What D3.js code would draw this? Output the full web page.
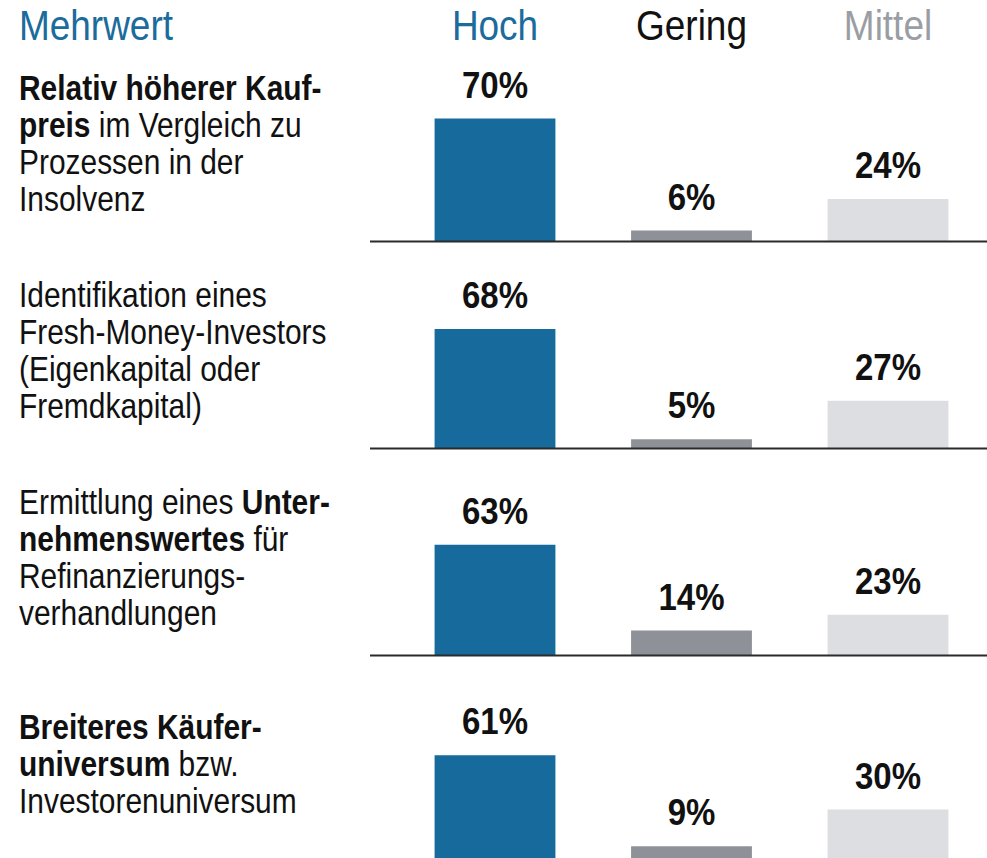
<!DOCTYPE html>
<html>
<head>
<meta charset="utf-8">
<script src="https://cdn.jsdelivr.net/npm/d3@7"></script>
<style>
  body { margin: 0; background: #fff; }
  svg { display: block; font-family: "Liberation Sans", Arial, sans-serif; }
</style>
</head>
<body>
<div class="chart"></div>
<script>
// categories (columns) and header text
var categories = ["Hoch", "Gering", "Mittel"];
var headerTitle = "Mehrwert";

// values per row, in percent
var hoch   = [70, 68, 63, 61];
var gering = [6, 5, 14, 9];
var mittel = [24, 27, 23, 30];

// row labels: each line is a list of [text, bold]
var rowLabels = [
  [[["Relativ höherer Kauf-", true]],
   [["preis", true], [" im Vergleich zu", false]],
   [["Prozessen in der", false]],
   [["Insolvenz", false]]],
  [[["Identifikation eines", false]],
   [["Fresh-Money-Investors", false]],
   [["(Eigenkapital oder", false]],
   [["Fremdkapital)", false]]],
  [[["Ermittlung eines ", false], ["Unter-", true]],
   [["nehmenswertes", true], [" für", false]],
   [["Refinanzierungs-", false]],
   [["verhandlungen", false]]],
  [[["Breiteres Käufer-", true]],
   [["universum", true], [" bzw.", false]],
   [["Investorenuniversum", false]]]
];

var width = 987;
var height = 858;

var barColor = { "Hoch": "#176a9c", "Gering": "#8e9298", "Mittel": "#dddee2" };
var headColor = { "Hoch": "#1b6b9c", "Gering": "#111111", "Mittel": "#9a9ea4" };

// no condensed font installed, so squeeze the text horizontally
var squeeze = { head: 0.88, label: 0.855, value: 0.88 };

var svg = d3.select(".chart")
            .append("svg")
            .attr("width", width)
            .attr("height", height);

function place(x, y, s) {
  return "translate(" + x + "," + y + ") scale(" + s + ",1)";
}

// column positions
var x = d3.scaleBand()
          .domain(categories)
          .range([396.75, 986.25])
          .paddingInner(0.385)
          .paddingOuter(0.1925);

// baseline of each row
var rowY = d3.scaleLinear()
             .domain([0, rowLabels.length - 1])
             .range([241, 862]);

// bar height
var h = d3.scaleLinear()
          .domain([0, 100])
          .range([0, 175]);

// header
svg.append("text")
   .attr("transform", place(19, 40, squeeze.head))
   .attr("font-size", 42)
   .attr("fill", "#1b6b9c")
   .text(headerTitle);

svg.selectAll("text.head")
   .data(categories)
   .enter().append("text")
   .attr("class", "head")
   .attr("transform", function(d){ return place(x(d) + x.bandwidth() / 2, 40, squeeze.head); })
   .attr("text-anchor", "middle")
   .attr("font-size", 42)
   .attr("fill", function(d){ return headColor[d]; })
   .text(function(d){ return d; });

var rows = rowLabels.map(function(lines, i){
  return { lines: lines, values: [hoch[i], gering[i], mittel[i]], i: i };
});

var row = svg.selectAll("g.row")
             .data(rows)
             .enter().append("g")
             .attr("class", "row")
             .attr("transform", function(d){ return "translate(0," + rowY(d.i) + ")"; });

// row label, centred on the row
var lineH = 37;
row.each(function(d){
  var g = d3.select(this);
  var n = d.lines.length;
  var first = -86 - (n - 1) * lineH / 2;
  d.lines.forEach(function(parts, j){
    var t = g.append("text")
             .attr("transform", place(19, first + j * lineH, squeeze.label))
             .attr("font-size", 35)
             .attr("fill", "#111");
    parts.forEach(function(p){
      t.append("tspan")
       .attr("font-weight", p[1] ? "bold" : "normal")
       .text(p[0]);
    });
  });
});

// bars
row.selectAll("rect")
   .data(function(d){ return d.values.map(function(v, k){ return { cat: categories[k], v: v }; }); })
   .enter().append("rect")
   .attr("x", function(d){ return x(d.cat); })
   .attr("y", function(d){ return -h(d.v); })
   .attr("width", x.bandwidth())
   .attr("height", function(d){ return h(d.v); })
   .attr("fill", function(d){ return barColor[d.cat]; });

// value labels
row.selectAll("text.val")
   .data(function(d){ return d.values.map(function(v, k){ return { cat: categories[k], v: v }; }); })
   .enter().append("text")
   .attr("class", "val")
   .attr("transform", function(d){ return place(x(d.cat) + x.bandwidth() / 2, -h(d.v) - 21, squeeze.value); })
   .attr("text-anchor", "middle")
   .attr("font-size", 37.5)
   .attr("font-weight", "bold")
   .attr("fill", "#111")
   .text(function(d){ return d.v + "%"; });

// baseline
row.append("line")
   .attr("x1", 370)
   .attr("x2", width)
   .attr("y1", 0.5)
   .attr("y2", 0.5)
   .attr("stroke", "#2b2b2b")
   .attr("stroke-width", 2);
</script>
</body>
</html>
